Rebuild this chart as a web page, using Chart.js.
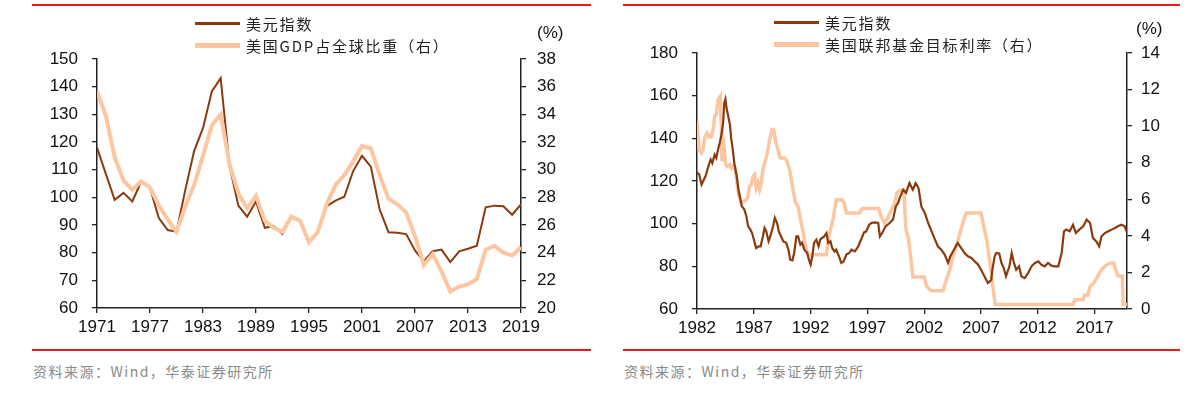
<!DOCTYPE html>
<html lang="zh-CN">
<head>
  <meta charset="UTF-8">
  <title>美元指数</title>
  <script src="https://cdn.jsdelivr.net/npm/chart.js"></script>
  <style>
    * {
      margin: 0;
      padding: 0;
      box-sizing: border-box;
    }

    body {
      width: 1189px;
      height: 396px;
      position: relative;
      overflow: hidden;
      background: #ffffff;
      font-family: 'Liberation Sans', Arial, sans-serif;
    }

    .box {
      position: absolute;
      top: 0;
      height: 345px;
    }

    .rule {
      position: absolute;
      height: 2px;
      background: #e8191b;
    }

    .legend {
      position: absolute;
      font-family: 'Noto Sans CJK SC', sans-serif;
      font-size: 15px;
      letter-spacing: 1.8px;
      color: #222;
    }

    .legend .item {
      display: flex;
      align-items: center;
      height: 22px;
    }

    .swatch {
      display: inline-block;
      width: 45px;
      margin-right: 6px;
    }

    .swatch.dark { height: 3px; background: #8b3a0e; }
    .swatch.light { height: 5px; background: #fcc6a0; }

    .unit {
      position: absolute;
      font-size: 17px;
      color: #111;
    }

    .source {
      position: absolute;
      top: 361px;
      font-family: 'Noto Sans CJK SC', sans-serif;
      font-size: 14px;
      letter-spacing: 1.5px;
      color: #8a8a8a;
    }
  </style>
</head>
<body>
  <div class="rule" style="left:32px; top:4px; width:559px;"></div>
  <div class="rule" style="left:32px; top:349px; width:559px;"></div>
  <div class="rule" style="left:623px; top:4px; width:557px;"></div>
  <div class="rule" style="left:623px; top:349px; width:557px;"></div>

  <div class="box" style="left:0; width:595px;"><canvas id="leftChart"></canvas></div>
  <div class="box" style="left:595px; width:594px;"><canvas id="rightChart"></canvas></div>

  <div class="legend" style="left:195px; top:12px;">
    <div class="item"><span class="swatch dark"></span><span>美元指数</span></div>
    <div class="item"><span class="swatch light"></span><span>美国GDP占全球比重（右）</span></div>
  </div>
  <div class="legend" style="left:774px; top:11px;">
    <div class="item"><span class="swatch dark"></span><span>美元指数</span></div>
    <div class="item"><span class="swatch light"></span><span>美国联邦基金目标利率（右）</span></div>
  </div>

  <div class="unit" style="left:537px; top:23px;">(%)</div>
  <div class="unit" style="left:1136px; top:19px;">(%)</div>

  <div class="source" style="left:33px;">资料来源：Wind，华泰证券研究所</div>
  <div class="source" style="left:624px;">资料来源：Wind，华泰证券研究所</div>

  <script>
    // 左图：年度数据
    const years = [1971, 1972, 1973, 1974, 1975, 1976, 1977, 1978, 1979, 1980,
      1981, 1982, 1983, 1984, 1985, 1986, 1987, 1988, 1989, 1990,
      1991, 1992, 1993, 1994, 1995, 1996, 1997, 1998, 1999, 2000,
      2001, 2002, 2003, 2004, 2005, 2006, 2007, 2008, 2009, 2010,
      2011, 2012, 2013, 2014, 2015, 2016, 2017, 2018, 2019];
    const dollarIndexYearly = [118, 108.5, 99.1, 101.6, 98.5, 105.7, 103.4, 92.5, 88.2, 87.6,
      102.7, 116.8, 125, 138.3, 143.1, 111.5, 97, 93, 98.5, 89,
      89.6, 86.8, 93.2, 91.2, 84.2, 87.3, 96.8, 98.8, 100.2, 109.5,
      115, 111.1, 95.6, 87.4, 87.2, 86.7, 80.8, 76.8, 80.5, 81.1,
      76.6, 80.5, 81.4, 82.5, 96.4, 97, 96.8, 93.7, 97.4];
    const usGdpShare = [35.7, 33.9, 30.9, 29.2, 28.55, 29.15, 28.7, 27.4, 26.4, 25.5,
      27.35, 28.9, 31, 33.2, 34, 30.4, 28.3, 27.2, 28.1, 26.3,
      25.8, 25.5, 26.6, 26.3, 24.75, 25.5, 27.5, 28.9, 29.6, 30.6,
      31.7, 31.55, 29.6, 27.9, 27.5, 26.9, 25.2, 23.1, 23.9, 22.65,
      21.2, 21.55, 21.7, 22.1, 24.2, 24.5, 24, 23.8, 24.4];
    const leftTicks = [1971, 1977, 1983, 1989, 1995, 2001, 2007, 2013, 2019];

    // 右图：美元指数（时间，数值）
    const dxyDates = [1982.0, 1982.2, 1982.4, 1982.6, 1982.8, 1983.0, 1983.2, 1983.35, 1983.55, 1983.7,
      1983.85, 1984.0, 1984.15, 1984.3, 1984.4, 1984.5, 1984.6, 1984.75, 1984.9, 1985.0,
      1985.15, 1985.3, 1985.5, 1985.65, 1985.8, 1985.95, 1986.15, 1986.35, 1986.5, 1986.7,
      1986.85, 1987.05, 1987.2, 1987.45, 1987.6, 1987.8, 1987.95, 1988.1, 1988.3, 1988.45,
      1988.7, 1988.85, 1989.05, 1989.2, 1989.4, 1989.6, 1989.85, 1990.05, 1990.2, 1990.4,
      1990.55, 1990.75, 1990.9, 1991.1, 1991.25, 1991.45, 1991.7, 1991.85, 1992.0, 1992.15,
      1992.3, 1992.5, 1992.7, 1992.85, 1993.0, 1993.2, 1993.4, 1993.55, 1993.75, 1993.9,
      1994.1, 1994.25, 1994.5, 1994.7, 1994.9, 1995.15, 1995.4, 1995.6, 1995.9, 1996.2,
      1996.5, 1996.7, 1996.9, 1997.15, 1997.35, 1997.65, 1997.95, 1998.1, 1998.3, 1998.6,
      1998.95, 1999.25, 1999.5, 1999.7, 1999.9, 2000.15, 2000.4, 2000.7, 2001.0, 2001.25,
      2001.5, 2001.75, 2002.05, 2002.35, 2002.65, 2002.95, 2003.2, 2003.5, 2003.8, 2004.1,
      2004.3, 2004.7, 2004.95, 2005.25, 2005.55, 2005.85, 2006.15, 2006.45, 2006.75, 2007.0,
      2007.3, 2007.6, 2007.9, 2008.0, 2008.2, 2008.35, 2008.6, 2008.8, 2009.0, 2009.2,
      2009.5, 2009.7, 2009.9, 2010.1, 2010.35, 2010.55, 2010.85, 2011.15, 2011.45, 2011.75,
      2012.05, 2012.3, 2012.6, 2012.9, 2013.2, 2013.5, 2013.8, 2014.1, 2014.3, 2014.5,
      2014.8, 2015.1, 2015.35, 2015.65, 2016.0, 2016.3, 2016.6, 2016.85, 2017.15, 2017.4,
      2017.6, 2017.9, 2018.2, 2018.5, 2018.8, 2019.05, 2019.35, 2019.65, 2019.8];
    const dxyValues = [124, 123, 118.3, 120.6, 123, 126.9, 130, 128.4, 132.3, 130.8,
      134.7, 137.8, 141.7, 147.2, 156.6, 158.4, 154.2, 150.3, 146.4, 140.2,
      134.7, 127.7, 122.2, 115.9, 112, 108.1, 106.9, 103.4, 98.75, 97.2,
      95.6, 91.7, 88.6, 89.4, 89.4, 94, 98, 96.4, 91.7, 94,
      98.75, 102.7, 100.3, 96.4, 94, 91.7, 91, 87.8, 83.1, 82.8,
      86.25, 94, 94, 90.2, 91, 87.8, 86.25, 83.1, 80.8, 84.7,
      91, 92.5, 89.4, 92.5, 93.3, 94, 95.6, 91, 91.7, 88.6,
      87, 87.8, 84.7, 81.6, 82.3, 85.5, 86.25, 87.8, 87, 89.4,
      93.3, 95.9, 96.4, 99.5, 100.3, 100.6, 100.3, 94, 95.6, 98.75,
      100.3, 101.9, 108.1, 109.7, 112.8, 115.9, 114.4, 119, 115.9, 119,
      116.7, 108.1, 105, 100.3, 96.4, 92.5, 89.4, 87.8, 85.5, 81.6,
      84.7, 88.6, 90.9, 88.6, 86.25, 84.7, 83.9, 82.3, 80.8, 78.4,
      75.3, 72.2, 73.5, 78.4, 84.7, 86.25, 86, 81.6, 79.2, 75.3,
      80, 86.25, 81.6, 78.4, 80, 75.3, 74.5, 76.9, 80, 81.6,
      82.3, 80.8, 80, 81.6, 80.3, 80, 80, 86.25, 96.4, 97.2,
      96.4, 99.5, 95.6, 97.2, 98.75, 101.9, 100.3, 93.3, 91.7, 89.4,
      94, 95.6, 96.4, 97.2, 98, 98.75, 99.5, 98.75, 96.4];

    // 右图：联邦基金目标利率（时间，%）
    const fedDates = [1982.0, 1982.18, 1982.38, 1982.53, 1982.67, 1982.88, 1983.06, 1983.26, 1983.47, 1983.55,
      1983.7, 1983.85, 1984.05, 1984.14, 1984.2, 1984.29, 1984.4, 1984.52, 1984.64, 1984.87,
      1985.02, 1985.17, 1985.37, 1985.52, 1985.7, 1985.9, 1986.13, 1986.34, 1986.49, 1986.63,
      1986.78, 1986.93, 1987.07, 1987.22, 1987.37, 1987.51, 1987.66, 1987.8, 1988.04, 1988.25,
      1988.39, 1988.6, 1988.74, 1988.92, 1989.13, 1989.33, 1989.71, 1989.92, 1990.15, 1990.45,
      1990.68, 1990.89, 1991.12, 1991.33, 1991.47, 1991.62, 1991.77, 1991.91, 1993.38, 1993.61,
      1993.82, 1994.02, 1994.26, 1994.76, 1994.95, 1995.15, 1996.3, 1996.55, 1998.0, 1998.2,
      1998.5, 1998.8, 1999.1, 1999.4, 1999.6, 1999.85, 2000.2, 2000.4, 2000.6, 2000.8,
      2001.0, 2002.0, 2002.2, 2002.6, 2003.65, 2003.95, 2004.25, 2004.55, 2004.8, 2005.1,
      2005.4, 2005.7, 2007.0, 2007.25, 2007.5, 2007.7, 2007.9, 2008.05, 2008.25, 2015.1,
      2015.25, 2016.0, 2016.1, 2016.4, 2016.6, 2016.9, 2017.2, 2017.5, 2017.75, 2018.05,
      2018.3, 2018.7, 2018.85, 2019.05, 2019.45, 2019.5, 2019.85];
    const fedRates = [10.26, 8.71, 8.53, 8.71, 9.35, 9.62, 9.4, 9.4, 9.99, 10.54,
      10.63, 11.45, 11.63, 10, 8.17, 8.17, 8.71, 7.98, 7.8, 7.9,
      7.71, 7.8, 7.71, 6.89, 6.16, 5.8, 5.89, 5.98, 6.16, 6.71,
      6.8, 7.25, 7.35, 6.62, 6.89, 6.53, 6.89, 7.62, 8.17, 8.71,
      9.26, 9.81, 9.81, 9.17, 8.71, 8.26, 8.26, 8.08, 7.62, 6.53,
      5.8, 5.61, 4.89, 4.25, 3.7, 3.24, 3.06, 2.97, 2.97, 3.97,
      4.52, 5.07, 5.98, 5.98, 5.8, 5.25, 5.25, 5.5, 5.5, 5.07,
      4.7, 5, 5.4, 5.8, 6.35, 6.5, 6.5, 4.3, 3.9, 2.9,
      1.75, 1.75, 1.25, 1, 1, 1.6, 2.15, 2.9, 3.4, 4.05,
      4.7, 5.25, 5.25, 4.5, 3.8, 2.9, 2, 1.2, 0.25, 0.25,
      0.5, 0.5, 0.75, 0.75, 1.25, 1.4, 1.7, 2.05, 2.25, 2.4,
      2.5, 2.5, 2.15, 1.8, 1.8, 0.25, 0.25];
    const rightTicks = [1982, 1987, 1992, 1997, 2002, 2007, 2012, 2017];

    const DARK = '#8b3a0e';
    const LIGHT = '#fcc6a0';
    const AXIS = '#222222';
    const tickFont = { family: 'Liberation Sans', size: 17 };

    const pairs = (xs, ys) => xs.map((x, i) => ({ x: x, y: ys[i] }));

    function yAxis(position, min, max, step, width, pad) {
      return {
        type: 'linear',
        position: position,
        min: min,
        max: max,
        grid: { drawOnChartArea: false, tickLength: 5, color: AXIS, lineWidth: 1.3 },
        border: { color: AXIS, width: 1.5 },
        ticks: { stepSize: step, padding: pad, color: '#111', font: tickFont },
        afterFit: (s) => { s.width = width; }
      };
    }

    function xAxis(min, max, tickList, height) {
      return {
        type: 'linear',
        min: min,
        max: max,
        grid: { drawOnChartArea: false, tickLength: 5, color: AXIS, lineWidth: 1.3 },
        border: { color: AXIS, width: 1.5 },
        afterBuildTicks: (s) => { s.ticks = tickList.map(v => ({ value: v })); },
        ticks: { padding: 4, maxRotation: 0, autoSkip: false, color: '#111', font: tickFont, callback: (v) => String(v) },
        afterFit: (s) => { s.height = height; }
      };
    }

    const baseOptions = {
      responsive: true,
      maintainAspectRatio: false,
      animation: false,
      plugins: { legend: { display: false }, tooltip: { enabled: false } },
      elements: { point: { radius: 0 }, line: { tension: 0 } }
    };

    new Chart(document.getElementById('leftChart'), {
      type: 'line',
      data: {
        datasets: [
          { label: '美元指数', data: pairs(years, dollarIndexYearly), borderColor: DARK, borderWidth: 2, yAxisID: 'y', order: 1 },
          { label: '美国GDP占全球比重（右）', data: pairs(years, usGdpShare), borderColor: LIGHT, borderWidth: 4, yAxisID: 'y1', order: 0 }
        ]
      },
      options: Object.assign({}, baseOptions, {
        layout: { padding: { top: 59, left: 0, right: 0, bottom: 0 } },
        scales: {
          x: xAxis(1971, 2019, leftTicks, 37),
          y: yAxis('left', 60, 150, 10, 97, 14),
          y1: yAxis('right', 20, 38, 2, 74, 11)
        }
      })
    });

    new Chart(document.getElementById('rightChart'), {
      type: 'line',
      data: {
        datasets: [
          { label: '美元指数', data: pairs(dxyDates, dxyValues), borderColor: DARK, borderWidth: 2.2, yAxisID: 'y', order: 0 },
          { label: '美国联邦基金目标利率（右）', data: pairs(fedDates, fedRates), borderColor: LIGHT, borderWidth: 3.5, yAxisID: 'y1', order: 1 }
        ]
      },
      options: Object.assign({}, baseOptions, {
        layout: { padding: { top: 53, left: 0, right: 0, bottom: 0 } },
        scales: {
          x: xAxis(1982, 2019.85, rightTicks, 36),
          y: yAxis('left', 60, 180, 20, 102, 14),
          y1: yAxis('right', 0, 14, 2, 62, 9)
        }
      })
    });
  </script>
</body>
</html>
